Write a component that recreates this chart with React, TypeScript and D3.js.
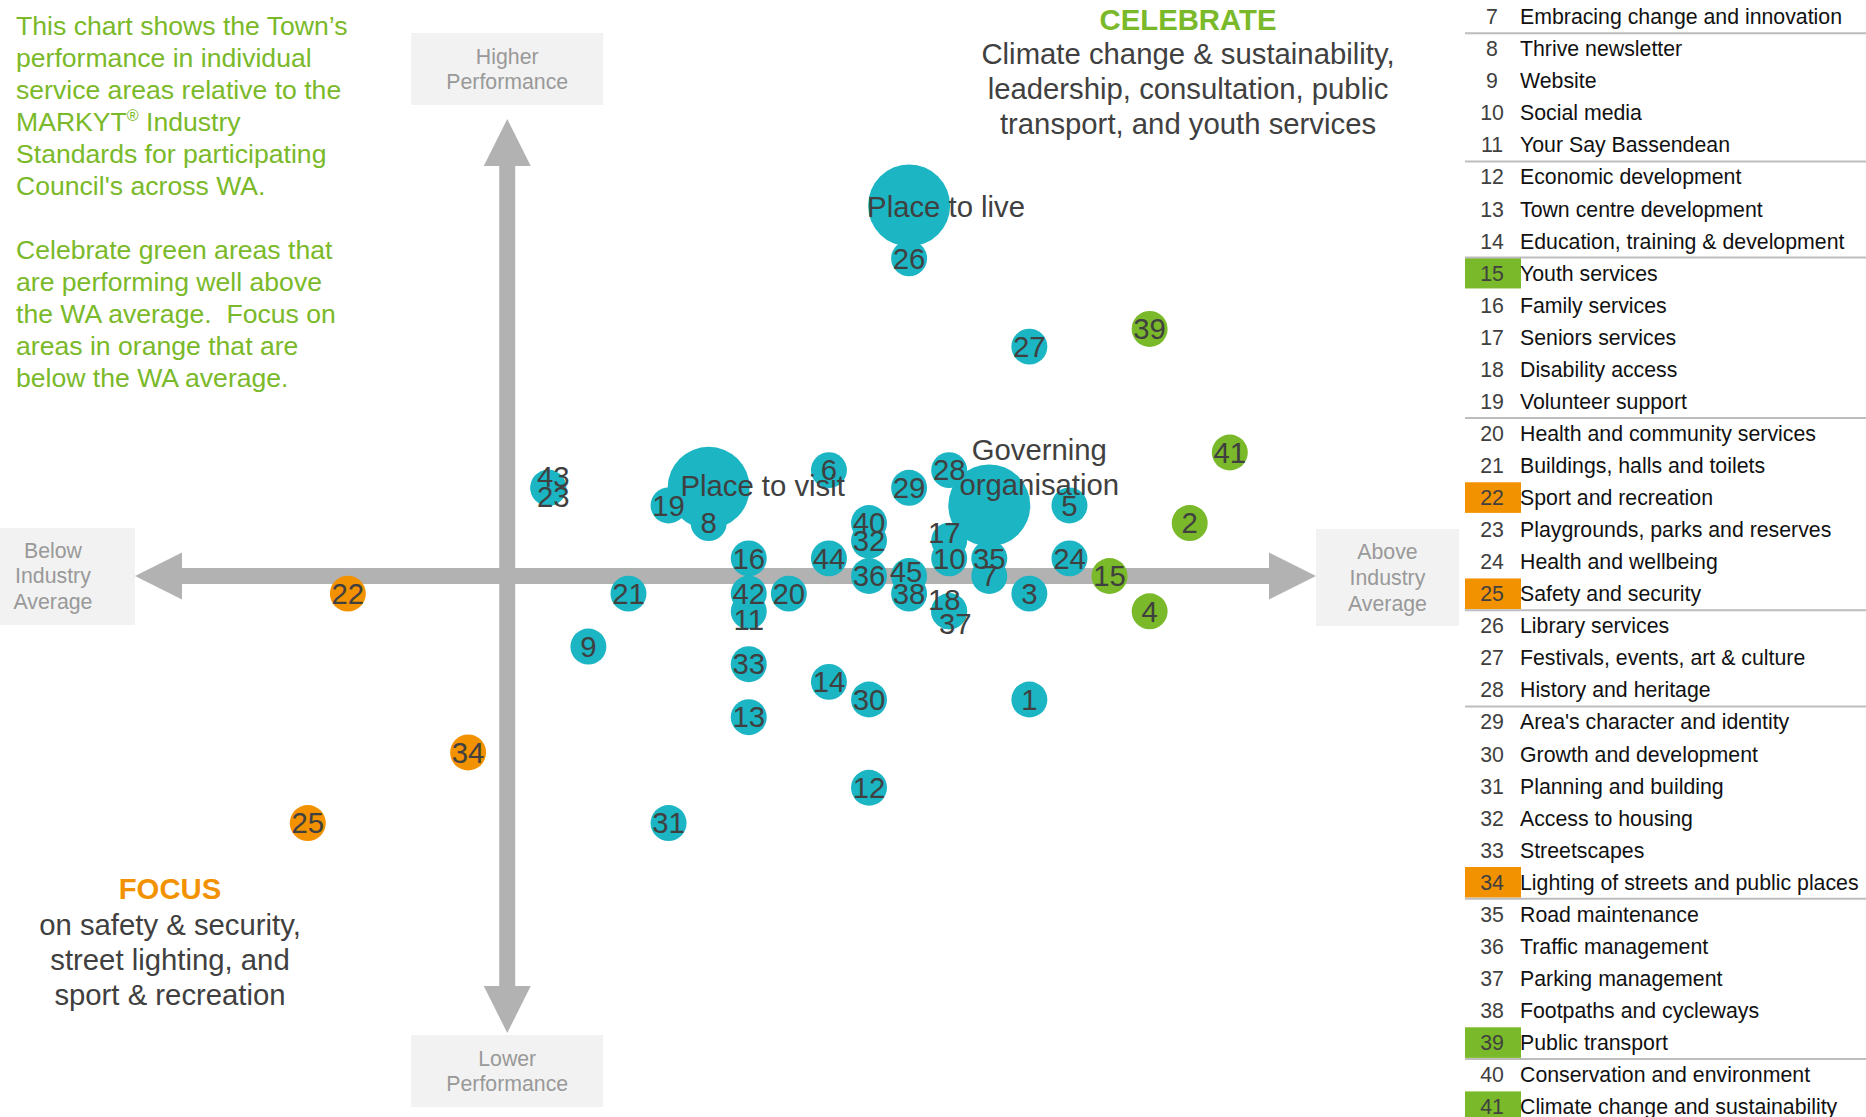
import React from "react";
import * as d3 from "d3";

const WIDTH = 1866;
const HEIGHT = 1117;

const FONT = "'Liberation Sans', Arial, Helvetica, sans-serif";
const TEAL = "#1bb5c4";
const GREEN = "#7ab929";
const ORANGE = "#f39200";
const DARK = "#404040";
const ARROW = "#b2b2b2";
const BOX = "#f2f2f2";
const BOX_TEXT = "#999999";
const RULE = "#bdbdbd";

// Service areas 1..45: x = relative to industry average, y = performance
const serviceX = [
  13, 17, 13, 16, 14, 8, 12, 5, 2, 11,
  6, 9, 6, 8, 15, 6, 11, 11, 4, 7,
  3, -4, 1, 14, -5, 10, 13, 11, 10, 9,
  4, 9, 6, -1, 12, 9, 11, 10, 16, 9,
  18, 6, 1, 8, 10,
];
const serviceY = [
  -7, 3, -1, -2, 4, 6, 0, 3, -4, 1,
  -2, -12, -8, -6, 0, 1, 2, -2, 4, -1,
  -1, -1, 5, 1, -14, 18, 13, 6, 5, -7,
  -14, 2, -5, -10, 1, 0, -2, -1, 14, 3,
  7, -1, 5, 1, 0,
];
const celebrateIds = [2, 4, 15, 39, 41];
const focusIds = [22, 25, 34];

// Theme bubbles
const themeNames = ["Place to live", "Place to visit", "Governing organisation"];
const themeX = [10, 5, 12];
const themeY = [21, 5, 4];

const serviceSize = 1;
const themeSize = 5.2;

// Legend (rows visible in the picture)
const legendFirst = 7;
const legendNames = [
  "Embracing change and innovation",
  "Thrive newsletter",
  "Website",
  "Social media",
  "Your Say Bassendean",
  "Economic development",
  "Town centre development",
  "Education, training & development",
  "Youth services",
  "Family services",
  "Seniors services",
  "Disability access",
  "Volunteer support",
  "Health and community services",
  "Buildings, halls and toilets",
  "Sport and recreation",
  "Playgrounds, parks and reserves",
  "Health and wellbeing",
  "Safety and security",
  "Library services",
  "Festivals, events, art & culture",
  "History and heritage",
  "Area's character and identity",
  "Growth and development",
  "Planning and building",
  "Access to housing",
  "Streetscapes",
  "Lighting of streets and public places",
  "Road maintenance",
  "Traffic management",
  "Parking management",
  "Footpaths and cycleways",
  "Public transport",
  "Conservation and environment",
  "Climate change and sustainability",
];
const legendBreaksAfter = [7, 11, 14, 19, 25, 28, 34, 39];

const introLines = [
  "This chart shows the Town\u2019s",
  "performance in individual",
  "service areas relative to the",
  "MARKYT\u00ae Industry",
  "Standards for participating",
  "Council's across WA.",
  "",
  "Celebrate green areas that",
  "are performing well above",
  "the WA average.  Focus on",
  "areas in orange that are",
  "below the WA average.",
];
const celebrateLines = [
  "Climate change & sustainability,",
  "leadership, consultation, public",
  "transport, and youth services",
];
const focusLines = ["on safety & security,", "street lighting, and", "sport & recreation"];

// extent of the drawn axis arrows, in data units
const X_EXTENT = [-9.31, 20.15];
const Y_EXTENT = [-25.9, 25.9];

// manual label nudges (px) where labels were moved off their bubble
const labelNudge: Record<string, [number, number]> = {
  "43": [5, -11],
  "23": [5, 9],
  "17": [-5, -8],
  "18": [-5, -12],
  "37": [6, 12],
  "11": [0, 8],
  "45": [-3, -4],
  "Place to live": [37, 1],
  "Place to visit": [54, -2],
  "Governing organisation": [50, -38],
};

export default function App() {
  const x = d3.scaleLinear().domain(X_EXTENT).range([135, 1316]);
  const y = d3.scaleLinear().domain(Y_EXTENT).range([1033, 119]);
  const r = d3.scaleSqrt().domain([0, themeSize]).range([0, 41]);

  const services = serviceX.map((sx, i) => {
    const id = i + 1;
    const fill = celebrateIds.includes(id) ? GREEN : focusIds.includes(id) ? ORANGE : TEAL;
    return { id: String(id), x: sx, y: serviceY[i], size: serviceSize, fill };
  });
  const themes = themeNames.map((name, i) => ({
    id: name,
    x: themeX[i],
    y: themeY[i],
    size: themeSize,
    fill: TEAL,
  }));

  const x0 = x(0) - 1;
  const y0 = y(0);
  const shaft = 16;
  const head = 47;
  const half = head / 2;
  const [xl, xr] = X_EXTENT.map(x);
  const [yb, yt] = Y_EXTENT.map(y);

  // each piece is its own path so overlapping shafts do not cancel out
  const arrowPieces = [
    `M${xl + head},${y0 - shaft / 2}H${xr - head}V${y0 + shaft / 2}H${xl + head}Z`,
    `M${x0 - shaft / 2},${yt + head}H${x0 + shaft / 2}V${yb - head}H${x0 - shaft / 2}Z`,
    `M${xl},${y0}L${xl + head},${y0 - half}V${y0 + half}Z`,
    `M${xr},${y0}L${xr - head},${y0 - half}V${y0 + half}Z`,
    `M${x0},${yt}L${x0 - half},${yt + head}H${x0 + half}Z`,
    `M${x0},${yb}L${x0 - half},${yb - head}H${x0 + half}Z`,
  ];

  const legendY = d3
    .scaleLinear()
    .domain([legendFirst, legendFirst + legendNames.length - 1])
    .range([16.7, 1106.7]);

  const boxLabel = (cx: number, cy: number, w: number, h: number, lines: string[]) => (
    <g>
      <rect x={cx - w / 2} y={cy - h / 2} width={w} height={h} fill={BOX} />
      {lines.map((t, i) => (
        <text
          key={i}
          x={cx}
          y={cy + (i - (lines.length - 1) / 2) * 25.8}
          dy="0.35em"
          textAnchor="middle"
          fontSize={21.3}
          fill={BOX_TEXT}
        >
          {t}
        </text>
      ))}
    </g>
  );

  const labelFor = (d: { id: string; x: number; y: number }, size: number) => {
    const [dx, dy] = labelNudge[d.id] || [0, 0];
    const lines = d.id === "Governing organisation" ? ["Governing", "organisation"] : [d.id];
    return lines.map((t, i) => (
      <text
        key={d.id + i}
        x={x(d.x) + dx}
        y={y(d.y) + dy + (i - (lines.length - 1) / 2) * 34.5}
        dy="0.35em"
        textAnchor="middle"
        fontSize={size}
        fill={DARK}
      >
        {t}
      </text>
    ));
  };

  return (
    <svg
      width={WIDTH}
      height={HEIGHT}
      viewBox={`0 0 ${WIDTH} ${HEIGHT}`}
      style={{ position: "absolute", left: 0, top: 0, display: "block", background: "#fff" }}
      fontFamily={FONT}
    >
      <rect width={WIDTH} height={HEIGHT} fill="#fff" />

      {/* intro text */}
      <g fill={GREEN} fontSize={26.6}>
        {introLines.map((t, i) =>
          t.includes("\u00ae") ? (
            <text key={i} x={16} y={35 + i * 32}>
              MARKYT
              <tspan fontSize={16} dy={-10}>
                {"\u00ae"}
              </tspan>
              <tspan dy={10}>{" Industry"}</tspan>
            </text>
          ) : (
            <text key={i} x={16} y={35 + i * 32} style={{ whiteSpace: "pre" }}>
              {t}
            </text>
          ),
        )}
      </g>

      {/* celebrate / focus notes */}
      <text x={1188} y={30} textAnchor="middle" fontSize={29.3} fontWeight="bold" fill={GREEN}>
        CELEBRATE
      </text>
      {celebrateLines.map((t, i) => (
        <text key={i} x={1188} y={64 + i * 35} textAnchor="middle" fontSize={29.3} fill={DARK}>
          {t}
        </text>
      ))}
      <text x={170} y={899} textAnchor="middle" fontSize={29.3} fontWeight="bold" fill={ORANGE}>
        FOCUS
      </text>
      {focusLines.map((t, i) => (
        <text key={i} x={170} y={935 + i * 35} textAnchor="middle" fontSize={29.3} fill={DARK}>
          {t}
        </text>
      ))}

      {/* axis arrows and end labels */}
      <g fill={ARROW}>
        {arrowPieces.map((d, i) => (
          <path key={i} d={d} />
        ))}
      </g>
      {boxLabel(x0, yt - 50, 192, 72, ["Higher", "Performance"])}
      {boxLabel(x0, yb + 38, 192, 72, ["Lower", "Performance"])}
      <rect x={-30} y={y0 - 48} width={xl + 30} height={97} fill={BOX} />
      {["Below", "Industry", "Average"].map((t, i) => (
        <text key={i} x={53} y={y0 + (i - 1) * 25.8} dy="0.35em" textAnchor="middle" fontSize={21.3} fill={BOX_TEXT}>
          {t}
        </text>
      ))}
      {boxLabel(xr + 71.5, y0 + 1.5, 143, 97, ["Above", "Industry", "Average"])}

      {/* bubbles */}
      {[...themes, ...services].map((d) => (
        <circle key={d.id} cx={x(d.x)} cy={y(d.y)} r={r(d.size)} fill={d.fill} />
      ))}
      {themes.map((d) => labelFor(d, 29.3))}
      {services.map((d) => labelFor(d, 29.3))}

      {/* legend */}
      <g fontSize={21.3}>
        {legendNames.map((name, i) => {
          const id = legendFirst + i;
          const cy = legendY(id);
          const hl = celebrateIds.includes(id) ? GREEN : focusIds.includes(id) ? ORANGE : null;
          return (
            <g key={id}>
              {hl && <rect x={1465} y={cy - 15.3} width={56} height={30.6} fill={hl} />}
              <text x={1492} y={cy} dy="0.35em" textAnchor="middle" fill={DARK}>
                {id}
              </text>
              <text x={1520} y={cy} dy="0.35em" fill="#111">
                {name}
              </text>
            </g>
          );
        })}
        {legendBreaksAfter.map((id) => (
          <line
            key={id}
            x1={1465}
            x2={WIDTH}
            y1={legendY(id) + 16.5}
            y2={legendY(id) + 16.5}
            stroke={RULE}
            strokeWidth={2}
          />
        ))}
      </g>
    </svg>
  );
}
